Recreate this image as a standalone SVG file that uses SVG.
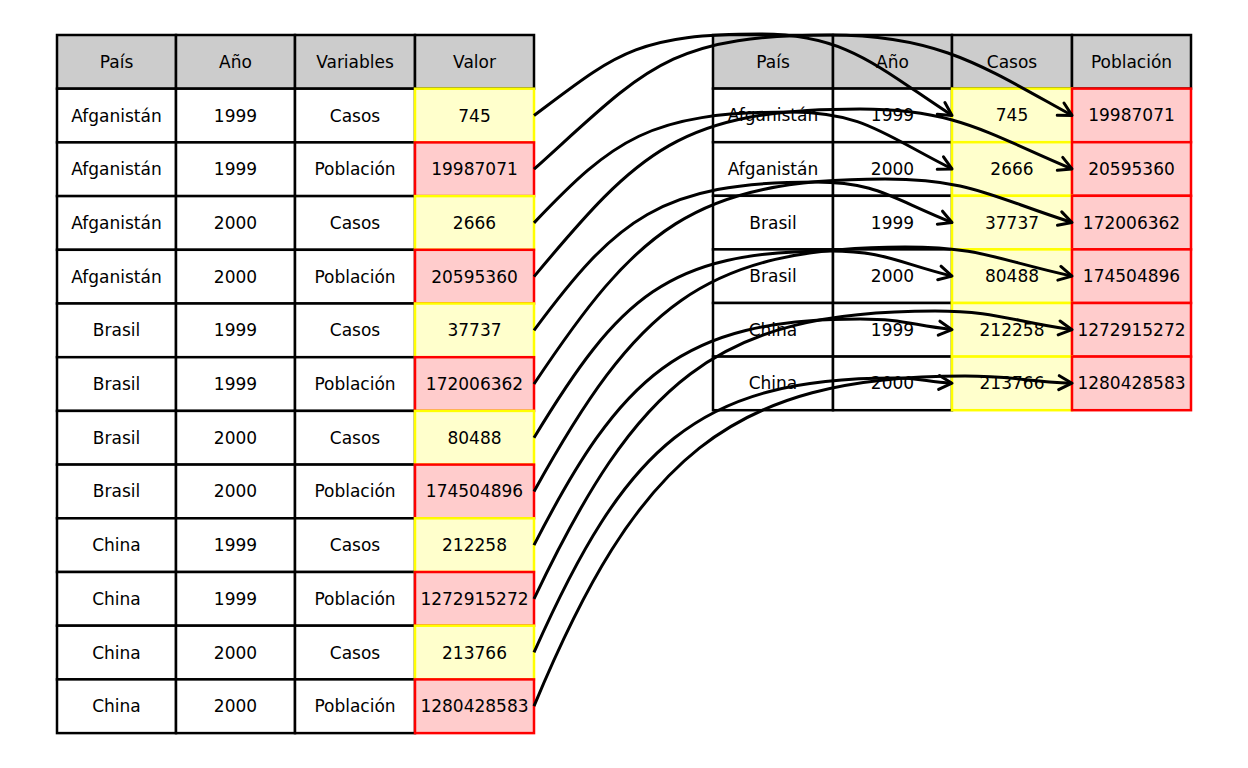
<svg xmlns="http://www.w3.org/2000/svg" width="1248" height="768" viewBox="0 0 1248 768">
<defs>
<style>
.cell{fill:#ffffff;stroke:#000000;stroke-width:2.5}
.hdr{fill:#cccccc;stroke:#000000;stroke-width:2.5}
.cas{fill:#ffffcc;stroke:#ffff00;stroke-width:2.5}
.pob{fill:#ffcccc;stroke:#ff0000;stroke-width:2.5}
text{font-family:"DejaVu Sans","Liberation Sans",sans-serif;font-size:17px;text-anchor:middle;dominant-baseline:central;fill:#000000}
.edge{fill:none;stroke:#000000;stroke-width:3;marker-end:url(#arr)}
</style>
<marker id="arr" viewBox="0 0 18 18" refX="16" refY="9" markerWidth="18" markerHeight="18" markerUnits="userSpaceOnUse" orient="auto">
<path d="M3,2 L16,9 L3,16" fill="none" stroke="#000000" stroke-width="3" stroke-linejoin="round" stroke-linecap="round"/>
</marker>
</defs>
<rect x="0" y="0" width="1248" height="768" fill="#ffffff"/>

<g id="left-table">
<g id="L-h-pais"><rect class="hdr" x="57" y="35" width="119" height="53.7"/><text x="116.5" y="61.85">País</text></g>
<g id="L-h-ano"><rect class="hdr" x="176" y="35" width="119" height="53.7"/><text x="235.5" y="61.85">Año</text></g>
<g id="L-h-var"><rect class="hdr" x="295" y="35" width="120" height="53.7"/><text x="355" y="61.85">Variables</text></g>
<g id="L-h-val"><rect class="hdr" x="415" y="35" width="119" height="53.7"/><text x="474.5" y="61.85">Valor</text></g>

<g id="L-r1-pais"><rect class="cell" x="57" y="88.7" width="119" height="53.7"/><text x="116.5" y="115.55">Afganistán</text></g>
<g id="L-r1-ano"><rect class="cell" x="176" y="88.7" width="119" height="53.7"/><text x="235.5" y="115.55">1999</text></g>
<g id="L-r1-var"><rect class="cell" x="295" y="88.7" width="120" height="53.7"/><text x="355" y="115.55">Casos</text></g>

<g id="L-r2-pais"><rect class="cell" x="57" y="142.4" width="119" height="53.7"/><text x="116.5" y="169.25">Afganistán</text></g>
<g id="L-r2-ano"><rect class="cell" x="176" y="142.4" width="119" height="53.7"/><text x="235.5" y="169.25">1999</text></g>
<g id="L-r2-var"><rect class="cell" x="295" y="142.4" width="120" height="53.7"/><text x="355" y="169.25">Población</text></g>

<g id="L-r3-pais"><rect class="cell" x="57" y="196.1" width="119" height="53.7"/><text x="116.5" y="222.95">Afganistán</text></g>
<g id="L-r3-ano"><rect class="cell" x="176" y="196.1" width="119" height="53.7"/><text x="235.5" y="222.95">2000</text></g>
<g id="L-r3-var"><rect class="cell" x="295" y="196.1" width="120" height="53.7"/><text x="355" y="222.95">Casos</text></g>

<g id="L-r4-pais"><rect class="cell" x="57" y="249.8" width="119" height="53.7"/><text x="116.5" y="276.65">Afganistán</text></g>
<g id="L-r4-ano"><rect class="cell" x="176" y="249.8" width="119" height="53.7"/><text x="235.5" y="276.65">2000</text></g>
<g id="L-r4-var"><rect class="cell" x="295" y="249.8" width="120" height="53.7"/><text x="355" y="276.65">Población</text></g>

<g id="L-r5-pais"><rect class="cell" x="57" y="303.5" width="119" height="53.7"/><text x="116.5" y="330.35">Brasil</text></g>
<g id="L-r5-ano"><rect class="cell" x="176" y="303.5" width="119" height="53.7"/><text x="235.5" y="330.35">1999</text></g>
<g id="L-r5-var"><rect class="cell" x="295" y="303.5" width="120" height="53.7"/><text x="355" y="330.35">Casos</text></g>

<g id="L-r6-pais"><rect class="cell" x="57" y="357.2" width="119" height="53.7"/><text x="116.5" y="384.05">Brasil</text></g>
<g id="L-r6-ano"><rect class="cell" x="176" y="357.2" width="119" height="53.7"/><text x="235.5" y="384.05">1999</text></g>
<g id="L-r6-var"><rect class="cell" x="295" y="357.2" width="120" height="53.7"/><text x="355" y="384.05">Población</text></g>

<g id="L-r7-pais"><rect class="cell" x="57" y="410.9" width="119" height="53.7"/><text x="116.5" y="437.75">Brasil</text></g>
<g id="L-r7-ano"><rect class="cell" x="176" y="410.9" width="119" height="53.7"/><text x="235.5" y="437.75">2000</text></g>
<g id="L-r7-var"><rect class="cell" x="295" y="410.9" width="120" height="53.7"/><text x="355" y="437.75">Casos</text></g>

<g id="L-r8-pais"><rect class="cell" x="57" y="464.6" width="119" height="53.7"/><text x="116.5" y="491.45">Brasil</text></g>
<g id="L-r8-ano"><rect class="cell" x="176" y="464.6" width="119" height="53.7"/><text x="235.5" y="491.45">2000</text></g>
<g id="L-r8-var"><rect class="cell" x="295" y="464.6" width="120" height="53.7"/><text x="355" y="491.45">Población</text></g>

<g id="L-r9-pais"><rect class="cell" x="57" y="518.3" width="119" height="53.7"/><text x="116.5" y="545.15">China</text></g>
<g id="L-r9-ano"><rect class="cell" x="176" y="518.3" width="119" height="53.7"/><text x="235.5" y="545.15">1999</text></g>
<g id="L-r9-var"><rect class="cell" x="295" y="518.3" width="120" height="53.7"/><text x="355" y="545.15">Casos</text></g>

<g id="L-r10-pais"><rect class="cell" x="57" y="572" width="119" height="53.7"/><text x="116.5" y="598.85">China</text></g>
<g id="L-r10-ano"><rect class="cell" x="176" y="572" width="119" height="53.7"/><text x="235.5" y="598.85">1999</text></g>
<g id="L-r10-var"><rect class="cell" x="295" y="572" width="120" height="53.7"/><text x="355" y="598.85">Población</text></g>

<g id="L-r11-pais"><rect class="cell" x="57" y="625.7" width="119" height="53.7"/><text x="116.5" y="652.55">China</text></g>
<g id="L-r11-ano"><rect class="cell" x="176" y="625.7" width="119" height="53.7"/><text x="235.5" y="652.55">2000</text></g>
<g id="L-r11-var"><rect class="cell" x="295" y="625.7" width="120" height="53.7"/><text x="355" y="652.55">Casos</text></g>

<g id="L-r12-pais"><rect class="cell" x="57" y="679.4" width="119" height="53.7"/><text x="116.5" y="706.25">China</text></g>
<g id="L-r12-ano"><rect class="cell" x="176" y="679.4" width="119" height="53.7"/><text x="235.5" y="706.25">2000</text></g>
<g id="L-r12-var"><rect class="cell" x="295" y="679.4" width="120" height="53.7"/><text x="355" y="706.25">Población</text></g>

<g id="L-r1-val"><rect class="cas" x="415" y="88.7" width="119" height="53.7"/><text x="474.5" y="115.55">745</text></g>
<g id="L-r2-val"><rect class="pob" x="415" y="142.4" width="119" height="53.7"/><text x="474.5" y="169.25">19987071</text></g>
<g id="L-r3-val"><rect class="cas" x="415" y="196.1" width="119" height="53.7"/><text x="474.5" y="222.95">2666</text></g>
<g id="L-r4-val"><rect class="pob" x="415" y="249.8" width="119" height="53.7"/><text x="474.5" y="276.65">20595360</text></g>
<g id="L-r5-val"><rect class="cas" x="415" y="303.5" width="119" height="53.7"/><text x="474.5" y="330.35">37737</text></g>
<g id="L-r6-val"><rect class="pob" x="415" y="357.2" width="119" height="53.7"/><text x="474.5" y="384.05">172006362</text></g>
<g id="L-r7-val"><rect class="cas" x="415" y="410.9" width="119" height="53.7"/><text x="474.5" y="437.75">80488</text></g>
<g id="L-r8-val"><rect class="pob" x="415" y="464.6" width="119" height="53.7"/><text x="474.5" y="491.45">174504896</text></g>
<g id="L-r9-val"><rect class="cas" x="415" y="518.3" width="119" height="53.7"/><text x="474.5" y="545.15">212258</text></g>
<g id="L-r10-val"><rect class="pob" x="415" y="572" width="119" height="53.7"/><text x="474.5" y="598.85">1272915272</text></g>
<g id="L-r11-val"><rect class="cas" x="415" y="625.7" width="119" height="53.7"/><text x="474.5" y="652.55">213766</text></g>
<g id="L-r12-val"><rect class="pob" x="415" y="679.4" width="119" height="53.7"/><text x="474.5" y="706.25">1280428583</text></g>
</g>

<g id="right-table">
<g id="R-h-pais"><rect class="hdr" x="713" y="35" width="120" height="53.6"/><text x="773" y="61.8">País</text></g>
<g id="R-h-ano"><rect class="hdr" x="833" y="35" width="119" height="53.6"/><text x="892.5" y="61.8">Año</text></g>
<g id="R-h-cas"><rect class="hdr" x="952" y="35" width="120" height="53.6"/><text x="1012" y="61.8">Casos</text></g>
<g id="R-h-pob"><rect class="hdr" x="1072" y="35" width="119" height="53.6"/><text x="1131.5" y="61.8">Población</text></g>

<g id="R-r1-pais"><rect class="cell" x="713" y="88.6" width="120" height="53.6"/><text x="773" y="115.4">Afganistán</text></g>
<g id="R-r1-ano"><rect class="cell" x="833" y="88.6" width="119" height="53.6"/><text x="892.5" y="115.4">1999</text></g>
<g id="R-r2-pais"><rect class="cell" x="713" y="142.2" width="120" height="53.6"/><text x="773" y="169">Afganistán</text></g>
<g id="R-r2-ano"><rect class="cell" x="833" y="142.2" width="119" height="53.6"/><text x="892.5" y="169">2000</text></g>
<g id="R-r3-pais"><rect class="cell" x="713" y="195.8" width="120" height="53.6"/><text x="773" y="222.6">Brasil</text></g>
<g id="R-r3-ano"><rect class="cell" x="833" y="195.8" width="119" height="53.6"/><text x="892.5" y="222.6">1999</text></g>
<g id="R-r4-pais"><rect class="cell" x="713" y="249.4" width="120" height="53.6"/><text x="773" y="276.2">Brasil</text></g>
<g id="R-r4-ano"><rect class="cell" x="833" y="249.4" width="119" height="53.6"/><text x="892.5" y="276.2">2000</text></g>
<g id="R-r5-pais"><rect class="cell" x="713" y="303" width="120" height="53.6"/><text x="773" y="329.8">China</text></g>
<g id="R-r5-ano"><rect class="cell" x="833" y="303" width="119" height="53.6"/><text x="892.5" y="329.8">1999</text></g>
<g id="R-r6-pais"><rect class="cell" x="713" y="356.6" width="120" height="53.6"/><text x="773" y="383.4">China</text></g>
<g id="R-r6-ano"><rect class="cell" x="833" y="356.6" width="119" height="53.6"/><text x="892.5" y="383.4">2000</text></g>

<g id="R-r1-cas"><rect class="cas" x="952" y="88.6" width="120" height="53.6"/><text x="1012" y="115.4">745</text></g>
<g id="R-r1-pob"><rect class="pob" x="1072" y="88.6" width="119" height="53.6"/><text x="1131.5" y="115.4">19987071</text></g>
<g id="R-r2-cas"><rect class="cas" x="952" y="142.2" width="120" height="53.6"/><text x="1012" y="169">2666</text></g>
<g id="R-r2-pob"><rect class="pob" x="1072" y="142.2" width="119" height="53.6"/><text x="1131.5" y="169">20595360</text></g>
<g id="R-r3-cas"><rect class="cas" x="952" y="195.8" width="120" height="53.6"/><text x="1012" y="222.6">37737</text></g>
<g id="R-r3-pob"><rect class="pob" x="1072" y="195.8" width="119" height="53.6"/><text x="1131.5" y="222.6">172006362</text></g>
<g id="R-r4-cas"><rect class="cas" x="952" y="249.4" width="120" height="53.6"/><text x="1012" y="276.2">80488</text></g>
<g id="R-r4-pob"><rect class="pob" x="1072" y="249.4" width="119" height="53.6"/><text x="1131.5" y="276.2">174504896</text></g>
<g id="R-r5-cas"><rect class="cas" x="952" y="303" width="120" height="53.6"/><text x="1012" y="329.8">212258</text></g>
<g id="R-r5-pob"><rect class="pob" x="1072" y="303" width="119" height="53.6"/><text x="1131.5" y="329.8">1272915272</text></g>
<g id="R-r6-cas"><rect class="cas" x="952" y="356.6" width="120" height="53.6"/><text x="1012" y="383.4">213766</text></g>
<g id="R-r6-pob"><rect class="pob" x="1072" y="356.6" width="119" height="53.6"/><text x="1131.5" y="383.4">1280428583</text></g>
</g>

<g id="connectors">
<path class="edge" d="M534,115.5 C615.5,54.4 635.7,34 760,34 C846.4,34 876.9,66.6 952,115.4"/>
<path class="edge" d="M534,169.2 C645.8,68.6 667.2,35 830,35 C938.9,35 984.3,67.2 1072,115.4"/>
<path class="edge" d="M534,222.9 C613.2,139.7 649.2,112 790,112 C862.9,112 883.7,134.7 952,168.9"/>
<path class="edge" d="M534,276.6 C638.8,150.9 680.7,109 860,109 C955.4,109 986.4,132.9 1072,168.9"/>
<path class="edge" d="M534,330.3 C616.4,219.1 660.4,182 815,182 C876.7,182 891.2,198.2 952,222.5"/>
<path class="edge" d="M534,384 C636.5,230.3 692,179 885,179 C969.2,179 990.4,196.4 1072,222.5"/>
<path class="edge" d="M534,437.7 C618.9,297.7 667.2,251 830,251 C884.9,251 897.1,262.4 952,276.1"/>
<path class="edge" d="M534,491.4 C635.8,308.1 701,247 905,247 C980.2,247 996.8,259.6 1072,276.1"/>
<path class="edge" d="M534,545.1 C621,375.5 680.7,319 860,319 C901.4,319 910.6,324.7 952,329.7"/>
<path class="edge" d="M534,598.8 C636.8,382.9 714.4,311 935,311 C996.7,311 1010.3,321.1 1072,329.7"/>
<path class="edge" d="M534,652.4 C625.5,446.6 696.4,378 895,378 C920.7,378 926.3,381.7 952,383.2"/>
<path class="edge" d="M534,706.1 C637.2,458.4 728,376 965,376 C1013.2,376 1023.8,381.3 1072,383.2"/>
</g>
</svg>
